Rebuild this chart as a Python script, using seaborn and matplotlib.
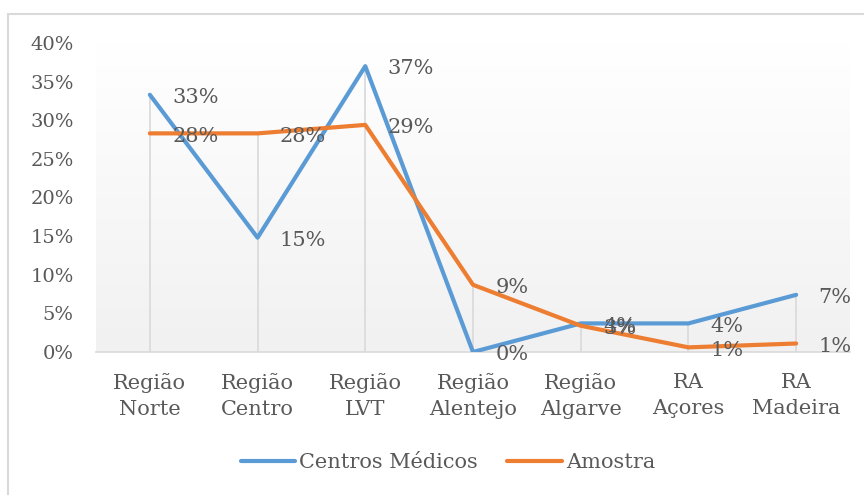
import numpy as np
import pandas as pd
import seaborn as sns
import matplotlib.pyplot as plt
from matplotlib.colors import LinearSegmentedColormap
from matplotlib.lines import Line2D
from matplotlib.patches import Rectangle

regioes = ['Região\nNorte', 'Região\nCentro', 'Região\nLVT', 'Região\nAlentejo',
           'Região\nAlgarve', 'RA\nAçores', 'RA\nMadeira']
centros = [0.333, 0.148, 0.370, 0.0, 0.037, 0.037, 0.074]
amostra = [0.283, 0.283, 0.294, 0.087, 0.034, 0.006, 0.011]
series = ['Centros Médicos', 'Amostra']
cores = ['#5B9BD5', '#ED7D31']

df = pd.DataFrame({
    'Regiao': regioes * 2,
    'Valor': centros + amostra,
    'Serie': [series[0]] * len(regioes) + [series[1]] * len(regioes),
})

sns.set_style('white')
plt.rcParams['font.family'] = ['DejaVu Serif']
texto = '#595959'

fig = plt.figure(figsize=(8.64, 4.95), dpi=100)
ax = fig.add_axes([96 / 864, 1 - 352 / 495, (850 - 96) / 864, (352 - 43) / 495])

# fundo em gradiente (branco em cima, cinza claro em baixo)
cmap = LinearSegmentedColormap.from_list('fundo', ['#ffffff', '#f1f1f1'])
grad = np.linspace(1, 0, 256).reshape(-1, 1)
ax.imshow(grad, extent=[-0.5, 6.5, 0.0, 0.40], origin='lower', aspect='auto',
          cmap=cmap, zorder=0)

n = len(regioes)
topo = [max(c, a) for c, a in zip(centros, amostra)]
ax.vlines(range(n), 0, topo, color='#d9d9d9', lw=1.2, zorder=1)

sns.lineplot(data=df, x='Regiao', y='Valor', hue='Serie', palette=cores,
             sort=False, lw=3, ax=ax, legend=False, zorder=3)

for i in range(n):
    for vals in (centros, amostra):
        ax.annotate(f'{vals[i] * 100:.0f}%', (i, vals[i]), xytext=(16, -2),
                    textcoords='offset points', ha='left', va='center',
                    fontsize=15, color=texto, zorder=4)

ax.set_xlim(-0.5, 6.5)
ax.set_ylim(0, 0.40)
ax.set_yticks(np.arange(0, 0.41, 0.05))
ax.set_yticklabels([f'{v}%' for v in range(0, 41, 5)])
ax.set_xticks(range(n))
ax.set_xticklabels(regioes, linespacing=1.45)
ax.tick_params(axis='y', length=0, pad=16, labelsize=14, labelcolor=texto)
ax.tick_params(axis='x', length=0, pad=15, labelsize=15, labelcolor=texto)
ax.set_xlabel('')
ax.set_ylabel('')
for s in ['top', 'right', 'left']:
    ax.spines[s].set_visible(False)
ax.spines['bottom'].set_color('#d9d9d9')
ax.spines['bottom'].set_linewidth(1.2)

handles = [Line2D([], [], color=c, lw=3, solid_capstyle='round') for c in cores]
fig.legend(handles, series, loc='center', bbox_to_anchor=(448 / 864, 1 - 463 / 495),
           ncol=2, frameon=False, fontsize=15, labelcolor=texto, handlelength=2.6,
           handletextpad=0.2, columnspacing=1.4)

# borda do grafico
fig.add_artist(Rectangle((8 / 864, -0.1), 1.2, 1 - 14 / 495 + 0.1, transform=fig.transFigure,
                         fill=False, edgecolor='#d9d9d9', lw=1.5))

fig.savefig('out.png', dpi=100)
